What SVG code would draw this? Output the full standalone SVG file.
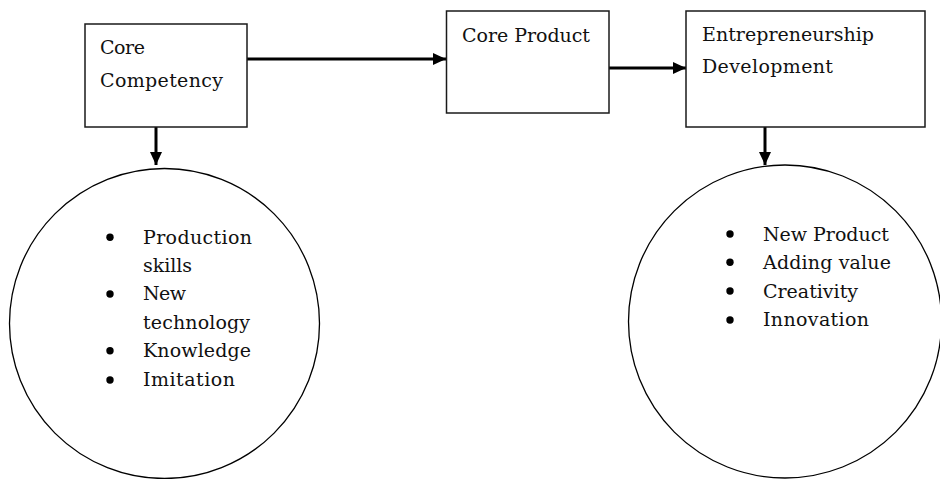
<svg xmlns="http://www.w3.org/2000/svg" width="940" height="479" viewBox="0 0 940 479">
<style>
  .box{fill:#fff;stroke:#1a1a1a;stroke-width:1.5}
  .circ{fill:#fff;stroke:#000;stroke-width:1.3}
  .t{font-family:"DejaVu Serif","Liberation Serif",serif;font-size:19px;fill:#111}
  .conn{stroke:#000;stroke-width:3;fill:none}
  .bul{fill:#000}
</style>
<defs>
  <marker id="ah" markerWidth="13" markerHeight="12" refX="13" refY="6" orient="auto" markerUnits="userSpaceOnUse">
    <path d="M0,0 L13,6 L0,12 Z" fill="#000"/>
  </marker>
</defs>
<rect width="940" height="479" fill="#fff"/>
<g id="connectors">
  <line class="conn" x1="247" y1="59" x2="446" y2="59" marker-end="url(#ah)"/>
  <line class="conn" x1="609" y1="68" x2="686" y2="68" marker-end="url(#ah)"/>
  <line class="conn" x1="156" y1="127" x2="156" y2="165" marker-end="url(#ah)"/>
  <line class="conn" x1="765" y1="127" x2="765" y2="165" marker-end="url(#ah)"/>
</g>
<g id="core-competency">
  <rect class="box" x="85" y="24" width="162" height="103"/>
  <text class="t" x="100" y="54.3" textLength="45">Core</text>
  <text class="t" x="100" y="86.5" textLength="123">Competency</text>
</g>
<g id="core-product">
  <rect class="box" x="446.5" y="11" width="162.5" height="102"/>
  <text class="t" x="462" y="41.7" textLength="128">Core Product</text>
</g>
<g id="entrepreneurship-development">
  <rect class="box" x="686" y="11" width="239" height="116"/>
  <text class="t" x="702" y="41" textLength="172">Entrepreneurship</text>
  <text class="t" x="702" y="72.7" textLength="131">Development</text>
</g>
<g id="competency-circle">
  <circle class="circ" cx="164.5" cy="323.5" r="155"/>
  <circle class="bul" cx="110" cy="237.3" r="3.7"/>
  <circle class="bul" cx="110" cy="294" r="3.7"/>
  <circle class="bul" cx="110" cy="350.7" r="3.7"/>
  <circle class="bul" cx="110" cy="380" r="3.7"/>
  <text class="t" x="143" y="243.5" textLength="109">Production</text>
  <text class="t" x="143" y="272" textLength="49">skills</text>
  <text class="t" x="143" y="300" textLength="43">New</text>
  <text class="t" x="143" y="328.5" textLength="107">technology</text>
  <text class="t" x="143" y="357" textLength="108">Knowledge</text>
  <text class="t" x="143" y="386" textLength="92">Imitation</text>
</g>
<g id="development-circle">
  <circle class="circ" cx="785" cy="321.5" r="156.5"/>
  <circle class="bul" cx="730" cy="234" r="3.7"/>
  <circle class="bul" cx="730" cy="262.3" r="3.7"/>
  <circle class="bul" cx="730" cy="291" r="3.7"/>
  <circle class="bul" cx="730" cy="320" r="3.7"/>
  <text class="t" x="763" y="240.5" textLength="126">New Product</text>
  <text class="t" x="763" y="269" textLength="128">Adding value</text>
  <text class="t" x="763" y="297.5" textLength="95">Creativity</text>
  <text class="t" x="763" y="326" textLength="106">Innovation</text>
</g>
</svg>
